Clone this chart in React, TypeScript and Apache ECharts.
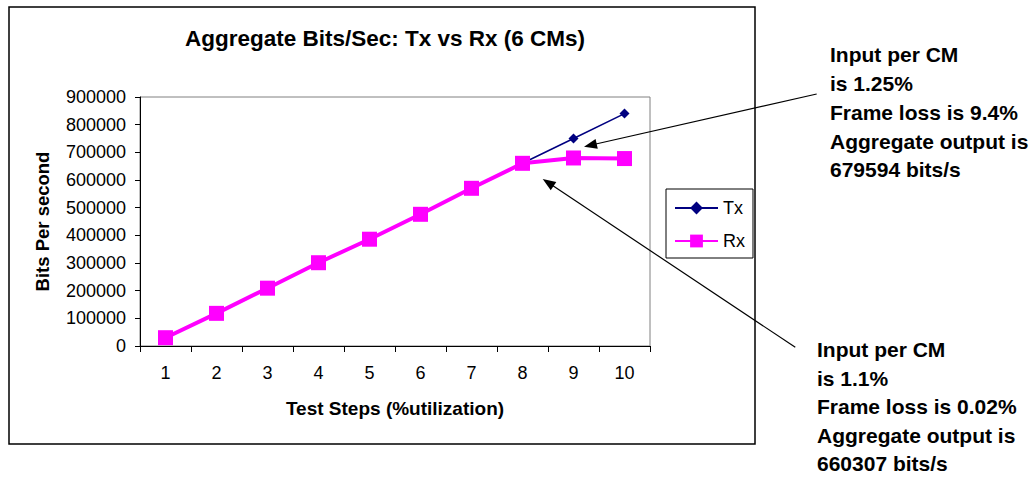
import React, { useEffect, useRef } from "react";
import * as echarts from "echarts";

const categories = ["1", "2", "3", "4", "5", "6", "7", "8", "9", "10"];
const txValues = [30000, 118000, 209000, 301000, 386000, 476000, 570000, 660439, 750000, 840000];
const rxValues = [30000, 118000, 209000, 301000, 386000, 476000, 570000, 660307, 679594, 677500];
const yMin = 0;
const yMax = 900000;
const yStep = 100000;

const titleText = "Aggregate Bits/Sec: Tx vs Rx (6 CMs)";
const xAxisTitle = "Test Steps (%utilization)";
const yAxisTitle = "Bits Per second";
const seriesNames = ["Tx", "Rx"];
const noteHigh = ["Input per CM", "is 1.25%", "Frame loss is 9.4%", "Aggregate output is", "679594 bits/s"];
const noteLow = ["Input per CM", "is 1.1%", "Frame loss is 0.02%", "Aggregate output is", "660307 bits/s"];

const FONT = "'Liberation Sans', Arial, Helvetica, sans-serif";

function arrow(x1: number, y1: number, x2: number, y2: number, headLen = 13, headHalf = 5) {
  const dx = x2 - x1;
  const dy = y2 - y1;
  const L = Math.hypot(dx, dy);
  const ux = dx / L;
  const uy = dy / L;
  const bx = x2 - ux * headLen;
  const by = y2 - uy * headLen;
  const px = -uy;
  const py = ux;
  return [
    {
      type: "line",
      z: 10,
      shape: { x1, y1, x2: bx + ux * 2, y2: by + uy * 2 },
      style: { stroke: "#000", lineWidth: 1.2 },
    },
    {
      type: "polygon",
      z: 10,
      shape: {
        points: [
          [x2, y2],
          [bx + px * headHalf, by + py * headHalf],
          [bx - px * headHalf, by - py * headHalf],
        ],
      },
      style: { fill: "#000" },
    },
  ];
}

export default function App() {
  const ref = useRef<HTMLDivElement>(null);

  useEffect(() => {
    document.body.style.margin = "0";
    if (!ref.current) return;
    const chart = echarts.init(ref.current, undefined, { renderer: "svg" });

    const option: any = {
      animation: false,
      backgroundColor: "#fff",
      textStyle: { fontFamily: FONT },
      grid: {
        left: 140,
        top: 97,
        right: 382,
        bottom: 137,
        show: true,
        borderColor: "#808080",
        borderWidth: 1,
        backgroundColor: "transparent",
        containLabel: false,
      },
      legend: {
        orient: "vertical",
        left: 666,
        top: 189,
        padding: [10, 8, 8, 8],
        itemWidth: 43,
        itemHeight: 16,
        itemGap: 15,
        borderColor: "#000",
        borderWidth: 1,
        data: seriesNames,
        textStyle: { fontFamily: FONT, fontSize: 18, color: "#000" },
      },
      xAxis: {
        type: "category",
        data: categories,
        boundaryGap: true,
        name: xAxisTitle,
        nameLocation: "middle",
        nameGap: 53,
        nameTextStyle: { fontFamily: FONT, fontSize: 19, fontWeight: "bold", color: "#000" },
        axisLine: { show: true, lineStyle: { color: "#000", width: 1 } },
        axisTick: { show: true, length: 6, lineStyle: { color: "#000" } },
        axisLabel: { color: "#000", fontSize: 18, fontFamily: FONT, margin: 18 },
        splitLine: { show: false },
      },
      yAxis: {
        type: "value",
        min: yMin,
        max: yMax,
        interval: yStep,
        name: yAxisTitle,
        nameLocation: "middle",
        nameGap: 88,
        nameTextStyle: { fontFamily: FONT, fontSize: 18.5, fontWeight: "bold", color: "#000" },
        axisLine: { show: true, lineStyle: { color: "#000", width: 1 } },
        axisTick: { show: true, length: 5, lineStyle: { color: "#000" } },
        axisLabel: {
          color: "#000",
          fontSize: 18,
          fontFamily: FONT,
          margin: 14,
          formatter: (v: number) => String(v),
        },
        splitLine: { show: false },
      },
      series: [
        {
          name: seriesNames[0],
          type: "line",
          data: txValues,
          symbol: "diamond",
          symbolSize: 10,
          lineStyle: { color: "#000080", width: 1.5 },
          itemStyle: { color: "#000080" },
          z: 2,
        },
        {
          name: seriesNames[1],
          type: "line",
          data: rxValues,
          symbol: "rect",
          symbolSize: 15,
          lineStyle: { color: "#FF00FF", width: 4 },
          itemStyle: { color: "#FF00FF" },
          z: 3,
        },
      ],
      graphic: [
        {
          type: "rect",
          z: -1,
          shape: { x: 9, y: 7, width: 746, height: 437 },
          style: { fill: "none", stroke: "#000", lineWidth: 1.5 },
        },
        {
          type: "text",
          x: 385,
          y: 38,
          style: {
            text: titleText,
            font: `bold 22.5px ${FONT}`,
            fill: "#000",
            align: "center",
            verticalAlign: "middle",
            textAlign: "center",
            textVerticalAlign: "middle",
          },
        },
        {
          type: "text",
          x: 830,
          y: 40.6,
          style: {
            text: noteHigh.join("\n"),
            font: `bold 21px ${FONT}`,
            lineHeight: 28.7,
            fill: "#000",
            align: "left",
            verticalAlign: "top",
            textAlign: "left",
            textVerticalAlign: "top",
          },
        },
        {
          type: "text",
          x: 817,
          y: 335.6,
          style: {
            text: noteLow.join("\n"),
            font: `bold 21px ${FONT}`,
            lineHeight: 28.5,
            fill: "#000",
            align: "left",
            verticalAlign: "top",
            textAlign: "left",
            textVerticalAlign: "top",
          },
        },
        ...arrow(816.7, 94, 584, 146.7),
        ...arrow(795.3, 347.3, 542.7, 179),
      ],
    };

    chart.setOption(option);
    return () => chart.dispose();
  }, []);

  return <div ref={ref} style={{ width: 1032, height: 483 }} />;
}
